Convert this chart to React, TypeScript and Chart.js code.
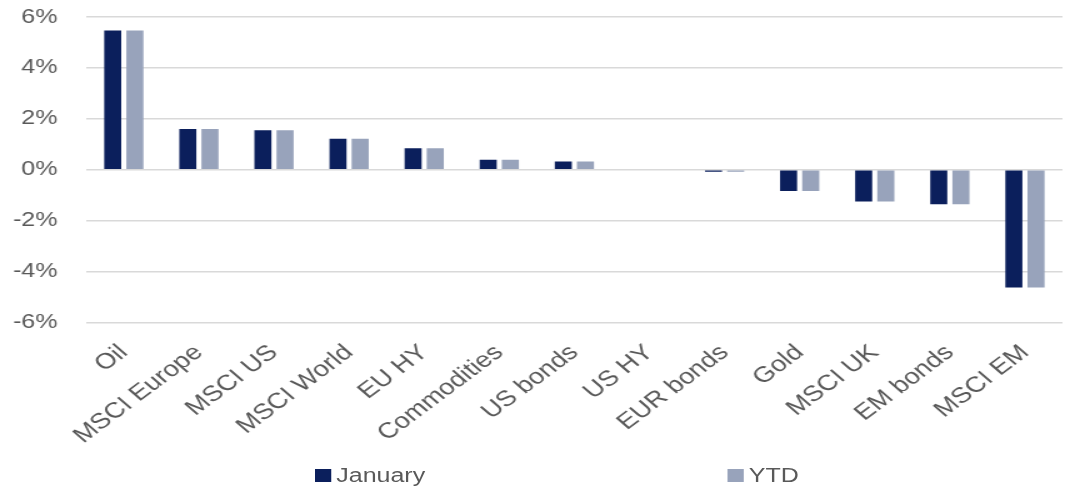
import React, { useEffect, useRef } from "react";
import { Chart, registerables } from "chart.js";

Chart.register(...registerables);

const categories = [
  "Oil", "MSCI Europe", "MSCI US", "MSCI World", "EU HY", "Commodities",
  "US bonds", "US HY", "EUR bonds", "Gold", "MSCI UK", "EM bonds", "MSCI EM",
];
const january = [5.47, 1.6, 1.55, 1.22, 0.85, 0.4, 0.33, 0, -0.08, -0.83, -1.24, -1.35, -4.62];
const ytd = [5.47, 1.6, 1.55, 1.22, 0.85, 0.4, 0.33, 0, -0.08, -0.83, -1.24, -1.35, -4.62];
const seriesNames = ["January", "YTD"];
const yTicks = [-6, -4, -2, 0, 2, 4, 6];

const NAVY = "#0b1f5c";
const GREY = "#98a3bb";
const TEXT = "#595959";
const FONT = "'Liberation Sans', Arial, sans-serif";
// the reference is stretched horizontally; draw narrower, then scale
const SX = 1.25;
const W = Math.round(1073 / SX);
const H = 476;

export default function App() {
  const ref = useRef<HTMLCanvasElement | null>(null);
  useEffect(() => {
    document.body.style.margin = "0";
    const chart = new Chart(ref.current!, {
      type: "bar",
      data: {
        labels: categories,
        datasets: [
          { label: seriesNames[0], data: january, backgroundColor: NAVY, categoryPercentage: 0.59, barPercentage: 0.77 },
          { label: seriesNames[1], data: ytd, backgroundColor: GREY, categoryPercentage: 0.59, barPercentage: 0.77 },
        ],
      },
      options: {
        animation: false,
        responsive: false,
        maintainAspectRatio: false,
        layout: { padding: { top: 0, right: 8, bottom: 0, left: 0 } },
        plugins: { legend: { display: false }, tooltip: { enabled: false } },
        scales: {
          x: {
            grid: { display: false },
            border: { display: false },
            ticks: {
              color: TEXT,
              font: { family: FONT, size: 22 },
              minRotation: 43,
              maxRotation: 43,
              padding: 9,
              autoSkip: false,
            },
          },
          y: {
            min: -6,
            max: 6,
            afterBuildTicks: (axis: any) => {
              axis.ticks = yTicks.map((v) => ({ value: v }));
            },
            afterFit: (axis: any) => {
              axis.width = 69;
            },
            grid: { color: "#d9d9d9", lineWidth: 1.5, drawTicks: false },
            border: { display: false },
            ticks: {
              color: TEXT,
              font: { family: FONT, size: 20 },
              padding: 23,
              callback: (v: any) => `${v}%`,
            },
          },
        },
      },
    });
    return () => chart.destroy();
  }, []);

  const legendItem = (name: string, color: string, left: number) => (
    <div style={{ position: "absolute", left, top: 464, display: "flex", alignItems: "center", fontFamily: FONT, fontSize: 20, color: TEXT }}>
      <span style={{ width: 13, height: 13, background: color, display: "inline-block", marginRight: 4 }} />
      {name}
    </div>
  );

  return (
    <div style={{ position: "relative", width: 1073, height: 489, background: "#fff", overflow: "hidden" }}>
      <div style={{ position: "absolute", left: 0, top: 0, width: W, height: 489, transform: `scale(${SX}, 1)`, transformOrigin: "0 0" }}>
        <canvas ref={ref} width={W} height={H} style={{ display: "block", position: "absolute", left: 0, top: -18, width: W, height: H }} />
        {legendItem(seriesNames[0], NAVY, 252)}
        {legendItem(seriesNames[1], GREY, 582)}
      </div>
    </div>
  );
}
